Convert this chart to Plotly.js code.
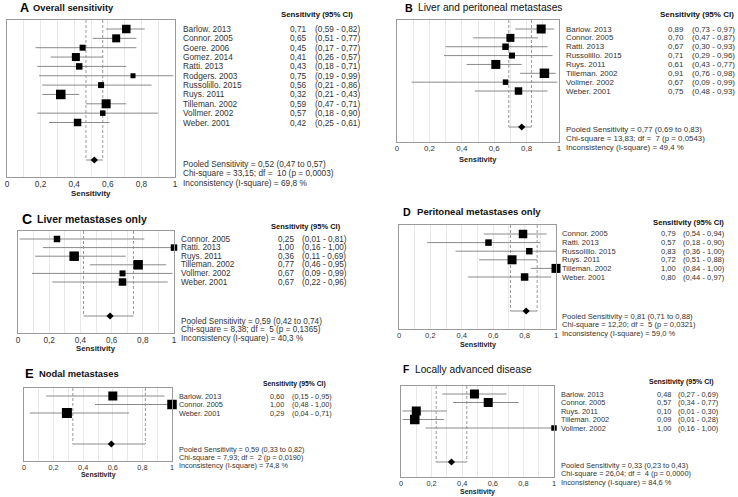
<!DOCTYPE html>
<html>
<head>
<meta charset="utf-8">
<script src="https://cdn.plot.ly/plotly-3.0.1.min.js"></script>
<style>html,body{margin:0;padding:0;background:#fff;}#chart{width:738px;height:497px;}</style>
</head>
<body>
<div id="chart"></div>
<script>
// ---------------- DATA ----------------
const tickVals = [0, 0.1, 0.2, 0.3, 0.4, 0.5, 0.6, 0.7, 0.8, 0.9, 1];
const tickLabels = ['0', '', '0,2', '', '0,4', '', '0,6', '', '0,8', '', '1'];
const axisTitle = 'Sensitivity';
const colHeader = 'Sensitivity (95% CI)';

// A  Overall sensitivity
const aTitle = 'Overall sensitivity';
const aStudies = ['Barlow. 2013','Connor. 2005','Goere. 2006','Gomez. 2014','Ratti. 2013','Rodgers. 2003','Russolillo. 2015','Ruys. 2011','Tilleman. 2002','Vollmer. 2002','Weber. 2001'];
const aSens = [0.71,0.65,0.45,0.41,0.43,0.75,0.56,0.32,0.59,0.57,0.42];
const aLow  = [0.59,0.51,0.17,0.26,0.18,0.19,0.21,0.21,0.47,0.18,0.25];
const aHigh = [0.82,0.77,0.77,0.57,0.71,0.99,0.86,0.43,0.71,0.90,0.61];
const aPooled = [0.52, 0.47, 0.57];           // estimate, low, high
const aHet = [33.15, 10, 0.0003, 69.8];       // chi-square, df, p, I-square

// B  Liver and peritoneal metastases
const bTitle = 'Liver and peritoneal metastases';
const bStudies = ['Barlow. 2013','Connor. 2005','Ratti. 2013','Russolillo. 2015','Ruys. 2011','Tilleman. 2002','Vollmer. 2002','Weber. 2001'];
const bSens = [0.89,0.70,0.67,0.71,0.61,0.91,0.67,0.75];
const bLow  = [0.73,0.47,0.30,0.29,0.43,0.76,0.09,0.48];
const bHigh = [0.97,0.87,0.93,0.96,0.77,0.98,0.99,0.93];
const bPooled = [0.77, 0.69, 0.83];
const bHet = [13.83, 7, 0.0543, 49.4];

// C  Liver metastases only
const cTitle = 'Liver metastases only';
const cStudies = ['Connor. 2005','Ratti. 2013','Ruys. 2011','Tilleman. 2002','Vollmer. 2002','Weber. 2001'];
const cSens = [0.25,1.00,0.36,0.77,0.67,0.67];
const cLow  = [0.01,0.16,0.11,0.46,0.09,0.22];
const cHigh = [0.81,1.00,0.69,0.95,0.99,0.96];
const cPooled = [0.59, 0.42, 0.74];
const cHet = [8.38, 5, 0.1365, 40.3];

// D  Peritoneal metastases only
const dTitle = 'Peritoneal metastases only';
const dStudies = ['Connor. 2005','Ratti. 2013','Russolillo. 2015','Ruys. 2011','Tilleman. 2002','Weber. 2001'];
const dSens = [0.79,0.57,0.83,0.72,1.00,0.80];
const dLow  = [0.54,0.18,0.36,0.51,0.84,0.44];
const dHigh = [0.94,0.90,1.00,0.88,1.00,0.97];
const dPooled = [0.81, 0.71, 0.88];
const dHet = [12.20, 5, 0.0321, 59.0];

// E  Nodal metastases
const eTitle = 'Nodal metastases';
const eStudies = ['Barlow. 2013','Connor. 2005','Weber. 2001'];
const eSens = [0.60,1.00,0.29];
const eLow  = [0.15,0.48,0.04];
const eHigh = [0.95,1.00,0.71];
const ePooled = [0.59, 0.33, 0.82];
const eHet = [7.93, 2, 0.0190, 74.8];

// F  Locally advanced disease
const fTitle = 'Locally advanced disease';
const fStudies = ['Barlow. 2013','Connor. 2005','Ruys. 2011','Tilleman. 2002','Vollmer. 2002'];
const fSens = [0.48,0.57,0.10,0.09,1.00];
const fLow  = [0.27,0.34,0.01,0.01,0.16];
const fHigh = [0.69,0.77,0.30,0.28,1.00];
const fPooled = [0.33, 0.23, 0.43];
const fHet = [26.04, 4, 0.0000, 84.6];

// ---------------- STYLE / LAYOUT ----------------
const W = 738, H = 497;
const FONT = 'Liberation Sans, Arial, Helvetica, sans-serif';
// marker widths in px (study weights as drawn)
const aMarkerPx = [8.5,8,6,8,6.5,5,6,9.5,9,5.5,7.5];
const bMarkerPx = [9,8,6.5,6,9,9.5,5.5,7.5];
const cMarkerPx = [6.5,6.5,9.5,9.5,6,7.5];
const dMarkerPx = [8.5,6.5,6.5,9,9,7.5];
const eMarkerPx = [9,9.5,10];
const fMarkerPx = [9,9,9,9.5,5.5];

const panels = [
  {letter:'A', title:aTitle, studies:aStudies, sens:aSens, lo:aLow, hi:aHigh, pooled:aPooled, het:aHet, px:aMarkerPx,
   g:{L:7,R:175,T:20,B:177,row0:29,pitch:9.35,pool:160,labX:182,valX:289,ciX:314,hdrX:280,hdrY:15,letX:19,letY:7.5,titX:32,statY:[164,173,182.5],xtY:193.5,fs:8.3,hfs:7.8,tfs:9.4,tb:true,lfs:12.5}},
  {letter:'B', title:bTitle, studies:bStudies, sens:bSens, lo:bLow, hi:bHigh, pooled:bPooled, het:bHet, px:bMarkerPx,
   g:{L:397,R:559,T:20,B:142,row0:29,pitch:8.86,pool:127,labX:565,valX:667,ciX:691,hdrX:659,hdrY:15,letX:404,letY:7.5,titX:417,statY:[130,139,148],xtY:159.5,fs:7.9,hfs:8,tfs:10.2,tb:false,lfs:10.7}},
  {letter:'C', title:cTitle, studies:cStudies, sens:cSens, lo:cLow, hi:cHigh, pooled:cPooled, het:cHet, px:cMarkerPx,
   g:{L:18,R:174,T:231,B:333,row0:239,pitch:8.6,pool:316,labX:180,valX:277,ciX:301,hdrX:270,hdrY:226.5,letX:21,letY:219.5,titX:36,statY:[321,329.5,338],xtY:348.5,fs:8.2,hfs:7.5,tfs:10.5,tb:true,lfs:14}},
  {letter:'D', title:dTitle, studies:dStudies, sens:dSens, lo:dLow, hi:dHigh, pooled:dPooled, het:dHet, px:dMarkerPx,
   g:{L:399,R:556,T:225,B:329,row0:234,pitch:8.6,pool:311,labX:561,valX:660,ciX:682,hdrX:652,hdrY:222,letX:402,letY:211.5,titX:416,statY:[316,324.5,333],xtY:344,fs:7.6,hfs:7.7,tfs:9.6,tb:true,lfs:10.7}},
  {letter:'E', title:eTitle, studies:eStudies, sens:eSens, lo:eLow, hi:eHigh, pooled:ePooled, het:eHet, px:eMarkerPx,
   g:{L:24,R:172,T:388,B:461,row0:396,pitch:8.5,pool:444,labX:178,valX:269,ciX:291,hdrX:262,hdrY:384,letX:24,letY:373.5,titX:38,statY:[449,457,465],xtY:474.5,fs:7.3,hfs:6.8,tfs:9.4,tb:true,lfs:13}},
  {letter:'F', title:fTitle, studies:fStudies, sens:fSens, lo:fLow, hi:fHigh, pooled:fPooled, het:fHet, px:fMarkerPx,
   g:{L:401,R:554,T:386,B:477,row0:394,pitch:8.5,pool:462,labX:560,valX:656,ciX:677,hdrX:648,hdrY:382,letX:402,letY:369.5,titX:414,statY:[465,473.5,482],xtY:491.5,fs:7.4,hfs:7,tfs:10.2,tb:false,lfs:10.2}}
];

function fmt(v, d) { return v.toFixed(d).replace('.', ','); }
function py(p) { return 1 - p / H; }
function pxX(p) { return p / W; }

const traces = [];
const annotations = [];
const layout = {
  width: W, height: H, autosize: false,
  margin: {l: 0, r: 0, t: 0, b: 0},
  paper_bgcolor: '#ffffff', plot_bgcolor: '#ffffff',
  showlegend: false,
  font: {family: FONT, color: '#222'},
  annotations: annotations
};

panels.forEach((p, i) => {
  const s = i === 0 ? '' : String(i + 1);
  const g = p.g;
  const topIdx = (g.T - g.row0) / g.pitch;
  const botIdx = (g.B - g.row0) / g.pitch;
  const poolIdx = (g.pool - g.row0) / g.pitch;
  const rows = p.studies.map((_, k) => k);

  layout['xaxis' + s] = {
    domain: [pxX(g.L), pxX(g.R)], range: [0, 1], anchor: 'y' + s,
    tickmode: 'array', tickvals: tickVals, ticktext: tickLabels,
    ticks: '', ticklabelstandoff: -1, showgrid: true, gridcolor: '#e8e8e8', gridwidth: 1,
    zeroline: false, showline: true, mirror: true, linecolor: '#9a9a9a', linewidth: 1,
    tickfont: {family: FONT, size: g.fs, color: '#333'}, fixedrange: true
  };
  layout['yaxis' + s] = {
    domain: [py(g.B), py(g.T)], range: [botIdx, topIdx], anchor: 'x' + s,
    showticklabels: false, ticks: '', showgrid: false, zeroline: false,
    showline: true, mirror: true, linecolor: '#9a9a9a', linewidth: 1, fixedrange: true
  };

  // pooled CI dashed guides
  traces.push({
    type: 'scatter', mode: 'lines', xaxis: 'x' + s, yaxis: 'y' + s,
    x: [p.pooled[1], p.pooled[1], null, p.pooled[2], p.pooled[2]],
    y: [topIdx, poolIdx, null, topIdx, poolIdx],
    line: {color: '#9a9a9a', width: 1, dash: '3px,2px'}, hoverinfo: 'skip', cliponaxis: false
  });
  // confidence interval lines (studies + pooled)
  const cx = [], cy = [];
  rows.forEach(k => { cx.push(p.lo[k], p.hi[k], null); cy.push(k, k, null); });
  cx.push(p.pooled[1], p.pooled[2]); cy.push(poolIdx, poolIdx);
  traces.push({
    type: 'scatter', mode: 'lines', xaxis: 'x' + s, yaxis: 'y' + s,
    x: cx, y: cy, line: {color: '#8a8a8a', width: 1}, hoverinfo: 'skip', cliponaxis: false
  });
  // study estimates
  traces.push({
    type: 'scatter', mode: 'markers', xaxis: 'x' + s, yaxis: 'y' + s,
    x: p.sens, y: rows, cliponaxis: false,
    marker: {symbol: 'square', size: p.px, color: '#000', opacity: 1, line: {width: 0}}
  });
  // pooled estimate
  traces.push({
    type: 'scatter', mode: 'markers', xaxis: 'x' + s, yaxis: 'y' + s,
    x: [p.pooled[0]], y: [poolIdx], cliponaxis: false,
    marker: {symbol: 'diamond', size: 5.5, color: '#000', line: {width: 0}}
  });

  const base = {showarrow: false, xanchor: 'left', yanchor: 'middle', borderpad: 0};
  // letter + title
  annotations.push(Object.assign({}, base, {xref: 'paper', yref: 'paper', x: pxX(g.letX), y: py(g.letY),
    text: '<b>' + p.letter + '</b>', font: {family: FONT, size: g.lfs, color: '#000'}}));
  annotations.push(Object.assign({}, base, {xref: 'paper', yref: 'paper', x: pxX(g.titX), y: py(g.letY),
    text: g.tb ? '<b>' + p.title + '</b>' : p.title, font: {family: FONT, size: g.tfs, color: '#111'}}));
  // column header
  annotations.push(Object.assign({}, base, {xref: 'paper', yref: 'paper', x: pxX(g.hdrX), y: py(g.hdrY),
    text: '<b>' + colHeader + '</b>', font: {family: FONT, size: g.hfs, color: '#111'}}));
  // study rows
  p.studies.forEach((name, k) => {
    annotations.push(Object.assign({}, base, {xref: 'paper', yref: 'y' + s, x: pxX(g.labX), y: k,
      text: name, font: {family: FONT, size: g.fs, color: '#333'}}));
    annotations.push(Object.assign({}, base, {xref: 'paper', yref: 'y' + s, x: pxX(g.valX), y: k,
      text: fmt(p.sens[k], 2), font: {family: FONT, size: g.fs, color: '#333'}}));
    annotations.push(Object.assign({}, base, {xref: 'paper', yref: 'y' + s, x: pxX(g.ciX), y: k,
      text: '(' + fmt(p.lo[k], 2) + ' - ' + fmt(p.hi[k], 2) + ')', font: {family: FONT, size: g.fs, color: '#333'}}));
  });
  // pooled statistics
  const lines = [
    'Pooled Sensitivity = ' + fmt(p.pooled[0], 2) + ' (' + fmt(p.pooled[1], 2) + ' to ' + fmt(p.pooled[2], 2) + ')',
    'Chi-square = ' + fmt(p.het[0], 2) + '; df = \u00a0' + p.het[1] + ' (p = ' + fmt(p.het[2], 4) + ')',
    'Inconsistency (I-square) = ' + fmt(p.het[3], 1) + ' %'
  ];
  lines.forEach((t, k) => {
    annotations.push(Object.assign({}, base, {xref: 'paper', yref: 'paper', x: pxX(g.labX), y: py(g.statY[k]),
      text: t, font: {family: FONT, size: g.fs, color: '#333'}}));
  });
  // x-axis title
  annotations.push(Object.assign({}, base, {xref: 'x' + s + ' domain', yref: 'paper', x: 0.5, xanchor: 'center', y: py(g.xtY),
    text: '<b>' + axisTitle + '</b>', font: {family: FONT, size: g.fs - 0.4, color: '#222'}}));
});

Plotly.newPlot('chart', traces, layout, {staticPlot: true, displayModeBar: false});
</script>
</body>
</html>
